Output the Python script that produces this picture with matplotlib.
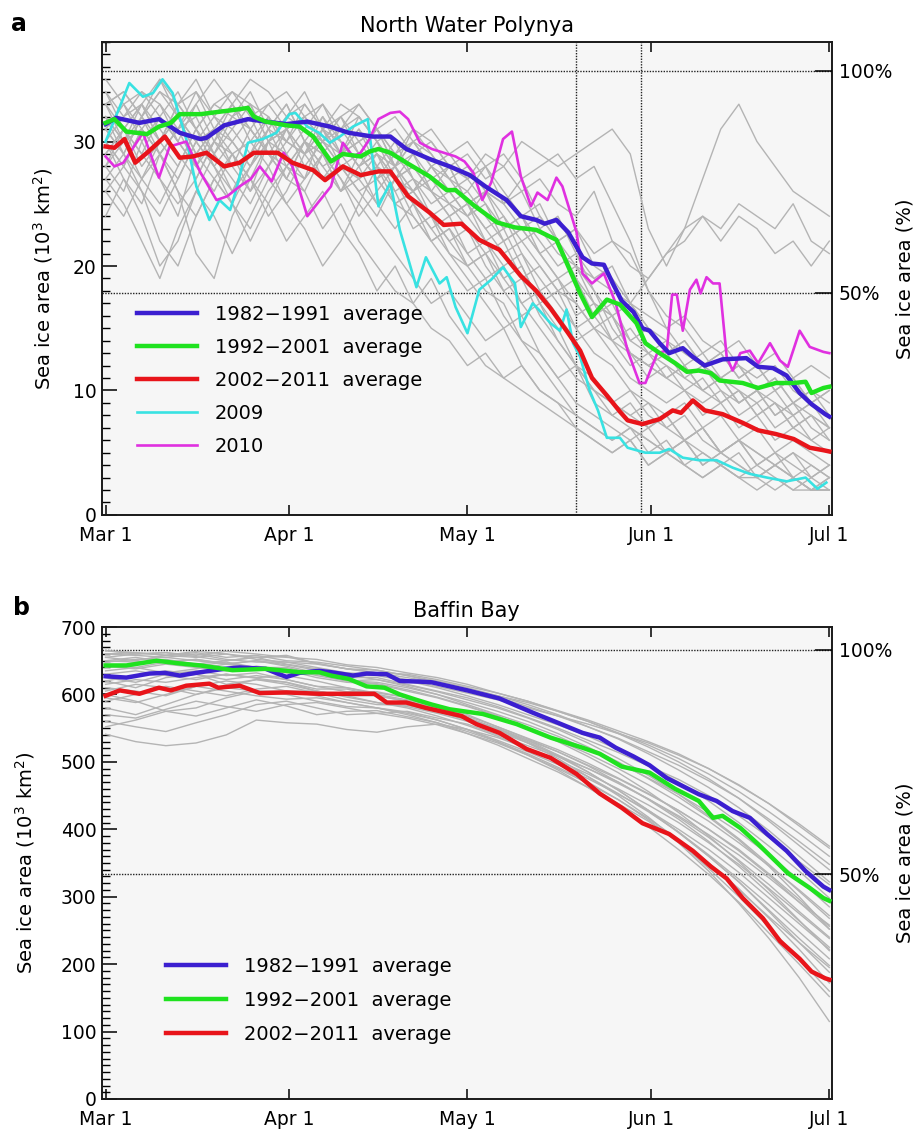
import numpy as np
import matplotlib
matplotlib.use('Agg')
import matplotlib.pyplot as plt
from matplotlib.ticker import MultipleLocator

plt.rcParams['font.family'] = ['DejaVu Sans']

# ---------------- common axis data ----------------
TICK_DAYS = [0, 31, 61, 92, 122]          # days since Mar 1
TICK_LABELS = ['Mar 1', 'Apr 1', 'May 1', 'Jun 1', 'Jul 1']

# ---------------- panel a: North Water Polynya ----------------
NOW_TITLE = 'North Water Polynya'
NOW_FULL = 35.7            # 100 % sea ice area (10^3 km^2)
NOW_VLINES = [79.3, 90.2]  # dotted reference days

now_blue_days = [0, 1.8, 5.7, 9, 12.5, 16, 17, 20, 24, 27, 30.5, 34, 37.8, 41, 45, 48, 50.7, 54.6, 58, 61.4,
                 64, 67.6, 70, 72.6, 74, 76, 78, 80.4, 82, 84, 85.5, 87, 89, 90.5, 91.7, 93.4, 95, 97.3, 99,
                 101, 104, 108, 110, 112.5, 114.8, 117, 119, 121.3, 122]
now_blue_vals = [31.4, 31.9, 31.5, 31.8, 30.7, 30.2, 30.3, 31.3, 31.8, 31.6, 31.4, 31.6, 31.2, 30.7, 30.4, 30.4,
                 29.4, 28.6, 28.0, 27.3, 26.4, 25.3, 24.0, 23.7, 23.4, 23.7, 22.7, 20.7, 20.2, 20.1, 18.6, 17.2,
                 16.3, 15.0, 14.8, 13.8, 13.0, 13.4, 12.7, 12.0, 12.5, 12.6, 11.9, 11.8, 11.2, 9.8, 8.9, 8.1, 7.9]

now_green_days = [0, 1.5, 3.5, 7, 9, 11, 12.5, 16, 21, 24, 25, 27, 30.5, 32.7, 35, 38, 40, 43, 44.5, 46, 48,
                  50.7, 54.6, 57.5, 59, 62, 66, 69, 72.6, 76, 77.5, 80, 82, 84.5, 86.7, 89.5, 91, 93.4, 96, 98,
                  100, 102, 103.5, 107.4, 110, 113, 116, 118, 119, 121, 122]
now_green_vals = [31.5, 31.8, 30.8, 30.6, 31.2, 31.5, 32.2, 32.2, 32.5, 32.7, 32.0, 31.6, 31.3, 31.2, 30.4, 28.4,
                  29.0, 28.8, 29.2, 29.4, 29.1, 28.3, 27.2, 26.1, 26.1, 24.9, 23.5, 23.1, 22.9, 22.1, 20.5, 17.8,
                  15.9, 17.3, 16.9, 15.4, 13.8, 13.0, 12.2, 11.5, 11.6, 11.4, 10.8, 10.6, 10.2, 10.6, 10.6, 10.7,
                  9.8, 10.2, 10.3]

now_red_days = [0, 1.5, 3.2, 5, 7, 10, 12.5, 14.7, 17, 20, 22.6, 25, 29, 31.5, 35, 37, 40, 43, 46, 48, 51, 54.6,
                57, 60, 63, 66.4, 70, 72.6, 75, 78, 80, 82, 84.5, 86.7, 88, 90.5, 93.4, 95.6, 97, 99, 101, 104,
                107.4, 110, 113, 116, 118.7, 121, 122]
now_red_vals = [29.6, 29.5, 30.2, 28.3, 29.1, 30.4, 28.7, 28.8, 29.1, 28.0, 28.3, 29.1, 29.1, 28.3, 27.7, 26.9,
                28.0, 27.3, 27.6, 27.6, 25.6, 24.3, 23.3, 23.4, 22.1, 21.3, 19.2, 18.0, 16.6, 14.6, 13.2, 11.0,
                9.6, 8.3, 7.6, 7.3, 7.7, 8.4, 8.2, 9.2, 8.4, 8.1, 7.4, 6.8, 6.5, 6.1, 5.4, 5.2, 5.1]

now_2009_days = [0, 2.4, 4, 6.3, 8, 9.6, 11.3, 13.6, 15.3, 16.4, 17.5, 19.2, 21, 22, 24, 26.5, 28.8, 31, 32, 34,
                 36, 37.8, 39.5, 41.7, 44.2, 46, 48, 49.6, 52.4, 54, 56.3, 57.5, 59, 61, 63, 65, 67, 69, 70, 72,
                 73, 75, 76.6, 77.7, 78.8, 80, 81.6, 83, 84.5, 86.7, 88, 91, 93.4, 95, 97.3, 100, 103, 105.7,
                 108.6, 111.5, 114.8, 118, 120, 121.5]
now_2009_vals = [30.0, 32.8, 34.7, 33.6, 33.9, 35.0, 33.9, 30.2, 26.4, 25.1, 23.7, 25.3, 24.5, 26.1, 29.9, 30.2,
                 30.7, 32.2, 32.3, 31.2, 30.7, 29.9, 30.4, 31.2, 31.8, 24.8, 26.7, 22.9, 18.3, 20.7, 18.6, 19.1,
                 16.7, 14.6, 18.1, 18.9, 19.9, 18.6, 15.1, 17.0, 16.5, 15.4, 14.8, 16.5, 13.8, 12.7, 10.0, 8.4,
                 6.2, 6.2, 5.4, 5.0, 5.0, 5.3, 4.6, 4.4, 4.4, 3.8, 3.3, 3.0, 2.7, 3.0, 2.1, 2.6]

now_2010_days = [0, 1.5, 3, 6.3, 9, 10.8, 13.6, 16, 18.7, 20.5, 22.6, 24.5, 26, 28, 30, 31.5, 34, 38, 40, 41.7,
                 43, 44.5, 46, 48, 49.6, 51, 53, 55, 57, 59, 60.5, 62, 63.5, 65, 67, 68.5, 70, 71.7, 72.8, 74.5,
                 76, 77, 79.4, 80.4, 82, 84, 86, 88, 90, 91, 93, 94.6, 95.5, 96.3, 97.3, 98.5, 99.6, 100.3,
                 101.3, 102.4, 103.5, 104.7, 105.7, 107, 108.6, 110, 112, 113.7, 115, 117, 118.7, 121, 122]
now_2010_vals = [28.8, 28.0, 28.3, 30.7, 27.1, 29.6, 30.0, 27.5, 25.3, 25.6, 26.4, 27.0, 28.0, 26.8, 29.1, 28.0,
                 24.0, 26.4, 29.9, 28.8, 29.1, 30.2, 31.8, 32.3, 32.4, 31.8, 29.9, 29.4, 29.1, 28.8, 28.4, 27.5,
                 25.3, 26.7, 30.2, 30.8, 27.2, 24.8, 25.9, 25.3, 27.1, 26.4, 22.7, 19.4, 18.6, 19.4, 17.0, 13.2,
                 10.6, 10.6, 13.0, 13.2, 17.7, 17.7, 14.8, 18.1, 18.9, 17.8, 19.1, 18.6, 18.6, 12.7, 11.6, 13.0,
                 13.2, 12.2, 13.8, 12.4, 11.9, 14.8, 13.5, 13.1, 13.0]

# other individual years (gray), evenly spaced from Mar 1 to Jul 1
now_gray = [
    [31, 33, 30, 32, 34, 31, 29, 32, 33, 30, 31, 32, 30, 29, 31, 28, 30, 27, 26, 28, 25, 23, 24, 21, 19, 17, 15, 13, 12, 10, 9, 8, 9, 7, 8, 6, 7, 5, 6, 5, 4],
    [28, 26, 30, 27, 24, 29, 31, 28, 26, 30, 29, 27, 31, 30, 28, 29, 26, 27, 24, 22, 23, 20, 18, 19, 16, 14, 12, 11, 9, 10, 8, 7, 8, 6, 5, 6, 4, 5, 3, 4, 3],
    [33, 34, 32, 35, 33, 34, 31, 33, 35, 34, 32, 33, 31, 32, 30, 31, 29, 30, 28, 29, 27, 28, 26, 24, 25, 22, 20, 18, 15, 13, 11, 12, 10, 9, 10, 8, 9, 7, 8, 6, 7],
    [30, 27, 24, 20, 22, 26, 29, 27, 25, 28, 30, 29, 27, 28, 26, 24, 27, 25, 23, 21, 20, 18, 17, 14, 13, 11, 9, 8, 7, 6, 7, 5, 6, 5, 4, 5, 3, 4, 3, 2, 3],
    [34, 32, 33, 30, 28, 31, 33, 32, 34, 31, 30, 32, 33, 31, 32, 30, 28, 30, 29, 27, 28, 26, 25, 27, 24, 22, 23, 20, 19, 17, 15, 14, 13, 12, 11, 12, 10, 11, 9, 10, 8],
    [27, 29, 26, 24, 27, 30, 28, 25, 23, 26, 28, 30, 29, 26, 27, 25, 23, 25, 22, 20, 18, 19, 16, 14, 12, 10, 8, 7, 6, 7, 5, 6, 4, 5, 4, 3, 4, 3, 2, 3, 2],
    [32, 30, 33, 31, 29, 27, 30, 32, 31, 29, 28, 30, 27, 29, 31, 29, 27, 26, 28, 26, 24, 22, 20, 21, 18, 19, 16, 17, 14, 13, 12, 11, 12, 10, 9, 10, 8, 9, 7, 8, 7],
    [29, 31, 28, 30, 32, 29, 27, 25, 28, 30, 27, 26, 29, 27, 24, 26, 28, 25, 23, 24, 21, 19, 20, 17, 15, 13, 11, 10, 9, 8, 9, 7, 6, 7, 5, 6, 5, 4, 5, 4, 3],
    [35, 33, 34, 32, 30, 33, 35, 33, 31, 33, 34, 32, 30, 32, 33, 31, 29, 31, 30, 28, 29, 27, 28, 26, 27, 25, 24, 26, 22, 21, 18, 16, 15, 13, 14, 12, 11, 12, 10, 9, 10],
    [26, 24, 27, 29, 26, 21, 19, 24, 27, 25, 22, 24, 26, 23, 21, 18, 20, 17, 15, 14, 12, 13, 11, 12, 10, 9, 8, 7, 6, 7, 6, 5, 6, 4, 5, 4, 3, 4, 3, 2, 2],
    [31, 29, 32, 34, 32, 30, 31, 33, 30, 28, 31, 29, 32, 30, 28, 29, 27, 28, 26, 25, 26, 24, 22, 23, 21, 19, 20, 17, 16, 14, 13, 12, 11, 12, 10, 9, 10, 8, 9, 7, 6],
    [28, 30, 27, 25, 28, 31, 29, 26, 28, 31, 33, 30, 28, 29, 27, 28, 25, 26, 24, 25, 23, 21, 22, 19, 20, 18, 17, 15, 16, 13, 12, 13, 11, 10, 11, 9, 10, 8, 9, 8, 7],
    [33, 31, 29, 32, 30, 28, 30, 33, 31, 29, 27, 30, 32, 29, 30, 28, 27, 29, 26, 24, 25, 22, 23, 20, 17, 15, 12, 10, 9, 8, 7, 8, 6, 7, 5, 6, 4, 5, 4, 3, 4],
    [24, 27, 25, 29, 31, 28, 26, 29, 27, 24, 26, 29, 31, 28, 26, 27, 25, 24, 22, 23, 21, 22, 19, 20, 17, 18, 15, 16, 14, 15, 13, 14, 12, 13, 11, 12, 10, 11, 9, 10, 9],
    [30, 32, 34, 33, 31, 32, 29, 31, 33, 32, 30, 29, 31, 33, 32, 30, 31, 29, 30, 28, 27, 29, 28, 30, 29, 28, 29, 30, 31, 29, 23, 20, 23, 27, 31, 33, 30, 28, 26, 25, 24],
    [32, 30, 31, 33, 30, 28, 31, 29, 30, 32, 29, 31, 30, 28, 29, 27, 28, 26, 27, 25, 24, 26, 25, 23, 24, 22, 23, 21, 22, 20, 19, 21, 22, 24, 23, 25, 24, 23, 25, 22, 21],
    [29, 31, 33, 30, 32, 29, 31, 30, 28, 30, 31, 29, 30, 28, 27, 29, 28, 26, 28, 27, 25, 26, 24, 22, 23, 21, 20, 19, 18, 17, 19, 21, 23, 24, 22, 24, 23, 21, 22, 20, 22],
    [33, 34, 32, 34, 33, 31, 33, 34, 32, 33, 31, 32, 30, 31, 33, 31, 32, 30, 31, 29, 30, 28, 29, 27, 28, 29, 27, 28, 25, 22, 18, 15, 13, 12, 11, 10, 9, 10, 8, 9, 8],
    [27, 25, 22, 19, 23, 26, 24, 21, 24, 27, 25, 23, 20, 22, 25, 23, 21, 19, 17, 18, 16, 14, 15, 12, 10, 9, 7, 6, 5, 6, 4, 5, 4, 3, 4, 3, 2, 3, 2, 2, 2],
    [31, 33, 31, 29, 31, 34, 32, 30, 28, 31, 33, 30, 29, 31, 29, 27, 29, 27, 25, 26, 24, 25, 22, 23, 21, 22, 19, 17, 16, 13, 12, 11, 10, 11, 9, 10, 8, 9, 7, 8, 6],
    [34, 31, 33, 35, 32, 30, 32, 34, 33, 30, 32, 34, 31, 29, 32, 30, 28, 31, 29, 27, 26, 28, 25, 26, 23, 24, 21, 19, 20, 17, 16, 15, 16, 14, 13, 14, 12, 13, 11, 12, 11],
    [30, 28, 31, 29, 27, 30, 28, 26, 29, 31, 28, 27, 29, 26, 28, 25, 27, 24, 22, 23, 20, 21, 18, 16, 17, 14, 12, 10, 8, 7, 6, 5, 6, 4, 5, 4, 3, 4, 3, 2, 3],
    [32, 29, 27, 30, 33, 31, 28, 30, 32, 29, 31, 28, 30, 32, 29, 31, 28, 29, 27, 28, 25, 26, 23, 24, 22, 20, 21, 18, 16, 17, 15, 13, 14, 12, 13, 11, 12, 10, 11, 9, 10],
    [28, 31, 29, 27, 25, 27, 30, 28, 31, 29, 27, 30, 28, 26, 29, 27, 25, 26, 24, 22, 20, 21, 19, 17, 18, 16, 14, 15, 13, 11, 10, 9, 10, 8, 9, 7, 8, 6, 7, 6, 5],
    [33, 30, 32, 29, 31, 33, 30, 29, 27, 30, 32, 31, 33, 30, 28, 30, 27, 28, 26, 24, 25, 23, 21, 22, 20, 18, 19, 16, 17, 14, 15, 13, 14, 12, 13, 11, 12, 10, 11, 9, 8],
    [26, 28, 31, 29, 26, 24, 27, 29, 26, 28, 25, 27, 29, 27, 25, 28, 26, 23, 24, 21, 19, 17, 15, 16, 13, 11, 12, 9, 8, 9, 7, 8, 6, 7, 5, 6, 5, 4, 5, 3, 4],
    [31, 29, 32, 30, 33, 35, 32, 31, 29, 32, 30, 33, 31, 29, 30, 31, 28, 30, 28, 26, 27, 25, 23, 24, 21, 19, 17, 15, 14, 12, 13, 11, 12, 10, 11, 9, 10, 9, 8, 9, 7],
    [30, 28, 26, 22, 20, 24, 27, 25, 22, 25, 28, 26, 23, 25, 22, 20, 18, 17, 19, 16, 14, 12, 11, 10, 9, 8, 7, 6, 5, 6, 4, 5, 4, 3, 4, 3, 3, 2, 3, 2, 2],
]

# ---------------- panel b: Baffin Bay ----------------
BB_TITLE = 'Baffin Bay'
BB_FULL = 666.0

bb_blue_days = [0, 3.5, 7.4, 10, 12.5, 16, 20, 22.6, 27, 29, 30.5, 32.7, 36, 38, 41.7, 44, 47.4, 49.6, 53, 55,
                58, 61, 66.4, 72, 75.4, 80.4, 83.3, 86, 89, 91.7, 94.6, 100, 103, 105.7, 108.6, 111.5, 114.8,
                118, 121, 122]
bb_blue_vals = [627, 625, 631, 632, 628, 633, 638, 640, 638, 631, 626, 632, 635, 633, 628, 631, 630, 620, 619,
                618, 612, 606, 594, 573, 561, 543, 536, 521, 508, 495, 476, 452, 442, 427, 417, 393, 368, 338,
                315, 310]

bb_green_days = [0, 3.5, 5.7, 8.6, 12.5, 16, 21.4, 27, 32.7, 36, 38, 41, 44, 47, 49.6, 52.4, 55, 58, 63.6, 69.3,
                 75, 80.4, 83.3, 87, 91.7, 96, 100, 102.4, 104, 107, 110, 113.5, 115, 118.7, 121, 122]
bb_green_vals = [643, 643, 646, 650, 646, 643, 636, 638, 633, 633, 628, 623, 612, 610, 600, 592, 585, 578, 571,
                 556, 536, 521, 512, 493, 484, 460, 442, 417, 420, 402, 378, 348, 335, 313, 298, 294]

bb_red_days = [0, 2.4, 5.7, 9, 11, 13.6, 17.5, 19, 22.6, 26, 30.5, 36, 41.7, 45.3, 47.4, 50.7, 54, 57.5, 60,
               62.5, 66.4, 71, 75, 79.4, 83.3, 87, 90.5, 95, 99, 102, 104.7, 107.4, 110.8, 113.7, 117, 119,
               121.3, 122]
bb_red_vals = [598, 606, 601, 610, 606, 613, 616, 610, 613, 602, 603, 601, 601, 601, 588, 588, 580, 573, 568,
               556, 543, 519, 506, 482, 453, 432, 409, 393, 368, 345, 327, 298, 268, 234, 208, 189, 179, 177]

bb_gray = [
    [650, 655, 648, 652, 645, 650, 642, 632, 625, 625, 615, 605, 595, 582, 566, 550, 532, 514, 494, 474, 450, 420, 388, 352, 318],
    [620, 610, 625, 630, 615, 622, 618, 605, 598, 588, 582, 572, 560, 545, 528, 510, 490, 470, 445, 420, 392, 362, 328, 292, 258],
    [660, 662, 658, 655, 660, 652, 648, 645, 638, 632, 630, 622, 612, 602, 590, 576, 562, 546, 530, 512, 490, 465, 438, 408, 375],
    [600, 590, 575, 580, 595, 605, 600, 590, 582, 580, 570, 558, 542, 525, 505, 485, 462, 438, 412, 382, 348, 310, 270, 232, 195],
    [640, 645, 650, 642, 648, 640, 640, 630, 620, 622, 612, 600, 585, 570, 555, 538, 518, 498, 476, 452, 425, 396, 362, 325, 285],
    [580, 570, 585, 600, 610, 605, 605, 598, 588, 580, 572, 562, 548, 532, 515, 496, 475, 452, 428, 400, 370, 336, 298, 260, 222],
    [655, 650, 658, 662, 655, 658, 650, 648, 642, 636, 628, 618, 608, 596, 582, 568, 552, 535, 515, 495, 472, 446, 415, 382, 348],
    [630, 635, 628, 622, 630, 625, 628, 620, 610, 602, 596, 584, 570, 552, 534, 515, 494, 470, 444, 415, 382, 345, 305, 264, 225],
    [541, 530, 524, 528, 540, 562, 558, 556, 548, 544, 552, 556, 548, 536, 520, 502, 482, 460, 436, 410, 380, 348, 312, 275, 238],
    [665, 660, 662, 658, 664, 660, 655, 652, 644, 640, 632, 625, 615, 602, 590, 575, 560, 543, 525, 505, 482, 456, 426, 394, 360],
    [610, 605, 598, 612, 620, 615, 605, 605, 596, 588, 580, 568, 554, 538, 520, 500, 478, 453, 426, 396, 362, 326, 288, 248, 208],
    [645, 640, 648, 652, 646, 640, 632, 632, 622, 615, 605, 595, 582, 568, 550, 532, 512, 490, 466, 440, 412, 380, 346, 310, 272],
    [590, 600, 612, 605, 598, 608, 612, 602, 592, 585, 584, 574, 562, 548, 532, 515, 495, 475, 452, 428, 400, 370, 334, 296, 256],
    [660, 658, 655, 660, 652, 648, 648, 640, 632, 630, 622, 612, 602, 592, 580, 568, 556, 542, 528, 510, 490, 466, 438, 405, 372],
    [625, 618, 630, 635, 628, 632, 622, 612, 610, 600, 592, 582, 568, 552, 535, 518, 498, 476, 453, 428, 400, 368, 332, 292, 252],
    [560, 552, 545, 558, 570, 585, 590, 580, 570, 572, 575, 565, 556, 540, 524, 508, 490, 468, 445, 418, 388, 354, 318, 278, 240],
    [650, 648, 652, 645, 650, 655, 645, 638, 630, 622, 614, 604, 592, 580, 565, 548, 528, 505, 480, 452, 420, 386, 348, 308, 268],
    [605, 615, 610, 600, 612, 622, 615, 605, 598, 598, 590, 580, 565, 550, 532, 510, 485, 458, 428, 395, 360, 322, 280, 238, 198],
    [635, 640, 632, 638, 645, 638, 638, 628, 620, 618, 610, 600, 588, 575, 560, 542, 522, 500, 475, 448, 418, 384, 345, 300, 252],
    [570, 565, 578, 590, 582, 575, 585, 588, 580, 572, 565, 555, 542, 528, 510, 490, 468, 444, 416, 385, 350, 312, 268, 222, 172],
    [648, 652, 655, 650, 645, 650, 644, 636, 628, 628, 620, 610, 598, 585, 570, 555, 538, 518, 495, 470, 442, 410, 375, 338, 298],
    [615, 622, 618, 625, 630, 624, 618, 608, 608, 598, 590, 578, 564, 548, 530, 508, 485, 458, 428, 396, 360, 322, 278, 232, 188],
    [655, 660, 662, 656, 650, 655, 658, 646, 638, 636, 628, 620, 610, 598, 585, 570, 552, 534, 512, 488, 462, 432, 398, 360, 322],
    [595, 588, 600, 612, 605, 598, 593, 595, 588, 580, 574, 562, 548, 530, 510, 488, 462, 434, 404, 370, 333, 292, 246, 200, 152],
    [642, 638, 645, 640, 635, 642, 636, 625, 618, 616, 607, 596, 583, 568, 550, 530, 508, 484, 456, 425, 390, 352, 310, 265, 220],
    [620, 628, 635, 630, 622, 628, 622, 612, 604, 604, 595, 582, 566, 548, 528, 505, 478, 450, 418, 382, 342, 300, 255, 208, 160],
    [665, 662, 658, 664, 660, 655, 656, 646, 638, 632, 625, 618, 608, 598, 588, 575, 560, 542, 522, 500, 475, 446, 412, 376, 340],
    [552, 562, 575, 568, 580, 592, 583, 570, 575, 576, 567, 558, 545, 530, 512, 492, 470, 444, 414, 380, 338, 290, 238, 180, 115],
]

# ---------------- styling ----------------
C_BLUE = '#3b1fd0'
C_GREEN = '#1fe21f'
C_RED = '#e8141a'
C_CYAN = '#38e2e2'
C_MAG = '#e030e0'
C_GRAY = '#b4b4b4'
BG = '#f6f6f6'
FS = 13.5

fig = plt.figure(figsize=(9.19, 11.31), dpi=100)
axA = fig.add_axes([0.111, 0.5447, 0.794, 0.4182])
axB = fig.add_axes([0.111, 0.0283, 0.794, 0.4173])


def style_axis(ax, ylim, major, minor, full, ylabel_x):
    ax.set_facecolor(BG)
    ax.set_xlim(-0.6, 122.4)
    ax.set_ylim(*ylim)
    ax.set_xticks(TICK_DAYS)
    ax.set_xticklabels(TICK_LABELS, fontsize=FS)
    ax.yaxis.set_major_locator(MultipleLocator(major))
    ax.yaxis.set_minor_locator(MultipleLocator(minor))
    ax.tick_params(axis='x', which='major', direction='in', top=True, bottom=True,
                   length=7, width=1.1, pad=8)
    ax.tick_params(axis='y', which='major', direction='in', left=True, right=False,
                   length=11, width=1.1, pad=4, labelsize=FS)
    ax.tick_params(axis='y', which='minor', direction='in', left=True, right=False,
                   length=6, width=1.0)
    for s in ax.spines.values():
        s.set_linewidth(1.4)
        s.set_color('#1a1a1a')
    ax.axhline(full, color='#222222', lw=1.0, ls=(0, (1, 1)), zorder=1.5)
    ax.axhline(full / 2, color='#222222', lw=1.0, ls=(0, (1, 1)), zorder=1.5)
    ax.set_ylabel(r'Sea ice area (10$^3$ km$^2$)', fontsize=14)
    ax.yaxis.set_label_coords(ylabel_x, 0.5)
    ax2 = ax.twinx()
    ax2.set_ylim(*ylim)
    ax2.set_yticks([full, full / 2])
    ax2.set_yticklabels(['100%', '50%'], fontsize=FS)
    ax2.tick_params(axis='y', direction='in', length=12, width=1.1, pad=5)
    ax2.set_ylabel('Sea ice area (%)', fontsize=14, rotation=90)
    ax2.yaxis.set_label_coords(1.088, 0.5)
    for s in ax2.spines.values():
        s.set_visible(False)


# ----- panel a -----
for vals in now_gray:
    axA.plot(np.linspace(0, 122, len(vals)), vals, color=C_GRAY, lw=1.0, zorder=2)
hc, = axA.plot(now_2009_days, now_2009_vals, color=C_CYAN, lw=1.9, zorder=3, label='2009')
hm, = axA.plot(now_2010_days, now_2010_vals, color=C_MAG, lw=1.9, zorder=3, label='2010')
hb, = axA.plot(now_blue_days, now_blue_vals, color=C_BLUE, lw=3.2, zorder=4, label='1982\u22121991  average')
hg, = axA.plot(now_green_days, now_green_vals, color=C_GREEN, lw=3.2, zorder=4, label='1992\u22122001  average')
hr, = axA.plot(now_red_days, now_red_vals, color=C_RED, lw=3.2, zorder=4, label='2002\u22122011  average')
for d in NOW_VLINES:
    axA.axvline(d, color='#222222', lw=1.0, ls=(0, (1, 1)), zorder=1.5)
style_axis(axA, (0, 38), 10, 1, NOW_FULL, -0.064)
axA.set_title(NOW_TITLE, fontsize=15, pad=7)
axA.legend(handles=[hb, hg, hr, hc, hm], loc='upper left', bbox_to_anchor=(0.048, 0.444),
           frameon=False, fontsize=14, handlelength=3.1, handletextpad=0.9, labelspacing=0.72,
           borderaxespad=0, borderpad=0)

# ----- panel b -----
for vals in bb_gray:
    axB.plot(np.linspace(0, 122, len(vals)), vals, color=C_GRAY, lw=1.0, zorder=2)
hb2, = axB.plot(bb_blue_days, bb_blue_vals, color=C_BLUE, lw=3.2, zorder=4, label='1982\u22121991  average')
hg2, = axB.plot(bb_green_days, bb_green_vals, color=C_GREEN, lw=3.2, zorder=4, label='1992\u22122001  average')
hr2, = axB.plot(bb_red_days, bb_red_vals, color=C_RED, lw=3.2, zorder=4, label='2002\u22122011  average')
style_axis(axB, (0, 700), 100, 10, BB_FULL, -0.089)
axB.set_title(BB_TITLE, fontsize=15, pad=7)
axB.legend(handles=[hb2, hg2, hr2], loc='upper left', bbox_to_anchor=(0.088, 0.301),
           frameon=False, fontsize=14, handlelength=3.1, handletextpad=0.9, labelspacing=0.78,
           borderaxespad=0, borderpad=0)

fig.text(0.012, 0.979, 'a', fontsize=17, fontweight='bold', va='center')
fig.text(0.014, 0.4624, 'b', fontsize=17, fontweight='bold', va='center')

fig.savefig('out.png', dpi=100)
